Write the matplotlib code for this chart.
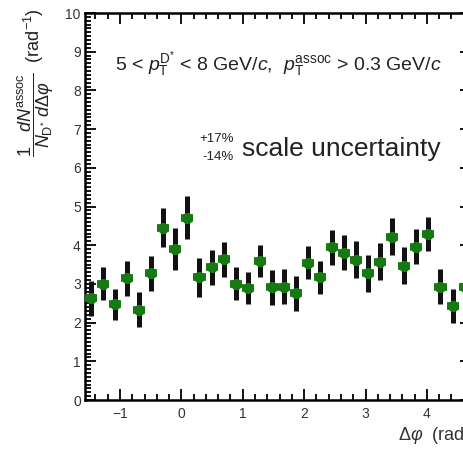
import numpy as np
import matplotlib
matplotlib.use("Agg")
import matplotlib.pyplot as plt
from matplotlib.ticker import MultipleLocator

plt.rcParams['font.family'] = ['Liberation Sans', 'DejaVu Sans']
plt.rcParams['mathtext.fontset'] = 'custom'
plt.rcParams['mathtext.rm'] = 'Liberation Sans'
plt.rcParams['mathtext.it'] = 'Liberation Sans:italic'
plt.rcParams['mathtext.bf'] = 'Liberation Sans:bold'

# 32 bins of pi/16 from -pi/2 to 3pi/2
N_BINS = 32
dphi_lo = -np.pi / 2
bin_width = np.pi / 16

yield_vals = [2.63, 3.01, 2.47, 3.14, 2.33, 3.27, 4.45, 3.90, 4.71, 3.17,
              3.43, 3.64, 3.01, 2.89, 3.59, 2.91, 2.93, 2.76, 3.55, 3.17,
              3.95, 3.81, 3.62, 3.27, 3.57, 4.22, 3.47, 3.96, 4.29, 2.93,
              2.43, 2.93]
stat_err = [0.45, 0.42, 0.40, 0.45, 0.45, 0.45, 0.50, 0.55, 0.56, 0.50,
            0.45, 0.45, 0.42, 0.42, 0.42, 0.45, 0.45, 0.45, 0.43, 0.43,
            0.45, 0.45, 0.48, 0.48, 0.48, 0.48, 0.48, 0.45, 0.45, 0.45,
            0.45, 0.45]

centers = dphi_lo + bin_width / 2 + bin_width * np.arange(N_BINS)

GREEN = '#157a12'

fig = plt.figure(figsize=(4.63, 4.5), dpi=100)
# right edge of the frame lies just outside the picture, like the cropped original
ax = fig.add_axes([85 / 463, 50 / 450, 385.6 / 463, 387 / 450])

ax.errorbar(centers, yield_vals, yerr=stat_err, fmt='none', ecolor='#111111',
            elinewidth=3.6, capsize=0, zorder=2)
ax.errorbar(centers, yield_vals, xerr=bin_width / 2, fmt='o', color=GREEN,
            ms=7, mec=GREEN, elinewidth=5.5, capsize=0, zorder=3)

ax.set_xlim(-np.pi / 2, 3 * np.pi / 2)
ax.set_ylim(0, 10)

ax.xaxis.set_major_locator(MultipleLocator(1))
ax.xaxis.set_minor_locator(MultipleLocator(0.2))
ax.yaxis.set_major_locator(MultipleLocator(1))
ax.yaxis.set_minor_locator(MultipleLocator(0.1))
ax.tick_params(which='both', direction='in', top=True, right=True,
               labelsize=10, width=1.3, labelcolor='#333333')
ax.tick_params(axis='y', pad=3)
ax.tick_params(axis='x', pad=5)
ax.tick_params(which='major', length=8)
ax.tick_params(which='minor', length=4)
for sp in ax.spines.values():
    sp.set_linewidth(1.8)

ax.set_xlabel(r'$\Delta\varphi$  (rad)', fontsize=13, color='#333333')
ax.xaxis.set_label_coords(1.0, -0.065)
ax.xaxis.label.set_horizontalalignment('right')

# y title drawn by hand so it sits at the top-left like the original
fig.text(36 / 463, 1 - 8 / 450,
         r'$\dfrac{1\ \ \ dN^{\rm assoc}}{N_{\rm D^{*}}\ d\Delta\varphi}$  (rad$^{-1}$)',
         fontsize=13, rotation=90, ha='center', va='top', color='#222222')

# text placed in pixel coords measured from the top
labels = [
    (115, 65, r'5 < $p_{\rm T}^{\rm D^{*}}$ < 8 GeV/$c$,  $p_{\rm T}^{\rm assoc}$ > 0.3 GeV/$c$', 14, 'left'),
    (234, 139, '+17%', 9.5, 'right'),
    (234, 157, '-14%', 9.5, 'right'),
    (242, 149, 'scale uncertainty', 19, 'left'),
]
for x, y, s, size, ha in labels:
    fig.text(x / 463, 1 - y / 450, s, fontsize=size, ha=ha, va='center',
             color='#222222')

fig.savefig('out.png', dpi=100)
